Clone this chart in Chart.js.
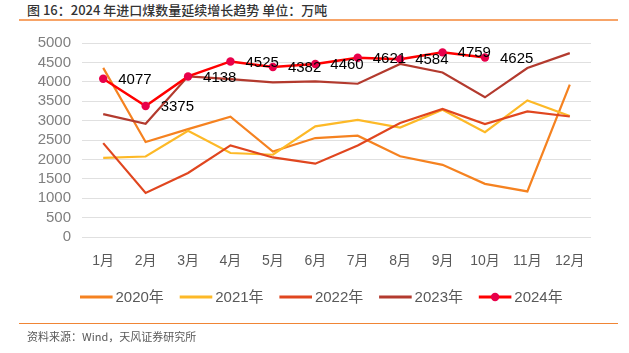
<!DOCTYPE html>
<html>
<head>
<meta charset="utf-8">
<script src="https://cdn.jsdelivr.net/npm/chart.js@4.4.1/dist/chart.umd.min.js"></script>
<style>
  body { margin: 0; background: #fff; }
  #wrap { position: relative; width: 629px; height: 353px; overflow: hidden; font-family: "Liberation Sans", "Noto Sans CJK SC", sans-serif; }
  #title { position: absolute; left: 27px; top: 1px; font-size: 13px; line-height: 17px; color: #333; white-space: nowrap; font-family: "Noto Sans CJK SC", sans-serif; font-weight: 500; }
  .rule { position: absolute; left: 19px; width: 599px; }
  #topRule { top: 19px; height: 1.5px; background: #F7A468; }
  #bottomRule { top: 322.5px; height: 1px; background: #F08535; }
  #source { position: absolute; left: 27px; top: 329px; font-size: 11px; line-height: 14px; color: #595959; white-space: nowrap; font-family: "Noto Sans CJK SC", sans-serif; }
  #chartBox { position: absolute; left: 0; top: 0; width: 629px; height: 353px; }
</style>
</head>
<body>
<div id="wrap">
  <div id="title">图 16：2024 年进口煤数量延续增长趋势 单位：万吨</div>
  <div class="rule" id="topRule"></div>
  <div id="chartBox"><canvas id="coal"></canvas></div>
  <div class="rule" id="bottomRule"></div>
  <div id="source">资料来源：Wind，天风证券研究所</div>
</div>
<script>
// monthly coal imports, 万吨
const months = ['1月', '2月', '3月', '4月', '5月', '6月', '7月', '8月', '9月', '10月', '11月', '12月'];
const seriesNames = ['2020年', '2021年', '2022年', '2023年', '2024年'];
const y2020 = [4360, 2450, 2780, 3100, 2200, 2550, 2610, 2080, 1860, 1370, 1175, 3925];
const y2021 = [2040, 2075, 2740, 2165, 2120, 2850, 3020, 2820, 3280, 2700, 3520, 3120];
const y2022 = [2420, 1135, 1650, 2360, 2050, 1890, 2360, 2940, 3300, 2910, 3235, 3105];
const y2023 = [3165, 2920, 4140, 4070, 3985, 4010, 3950, 4460, 4240, 3600, 4355, 4740];
const y2024 = [4077, 3375, 4138, 4525, 4382, 4460, 4621, 4584, 4759, 4625, null, null];
const yTicks = [0, 500, 1000, 1500, 2000, 2500, 3000, 3500, 4000, 4500, 5000];

const colors = ['#F58220', '#FDB927', '#E0461F', '#B33A2E', '#FF0000'];
const dotColor = '#E8004A';
const fontFamily = '"Liberation Sans", "Noto Sans CJK SC", sans-serif';

const valueLabels = {
  id: 'valueLabels',
  afterDatasetsDraw(chart) {
    const ctx = chart.ctx;
    const meta = chart.getDatasetMeta(4);
    ctx.save();
    ctx.font = '15px ' + fontFamily;
    ctx.fillStyle = '#000';
    ctx.textAlign = 'left';
    ctx.textBaseline = 'middle';
    meta.data.forEach((pt, i) => {
      if (y2024[i] == null) return;
      ctx.fillText(String(y2024[i]), pt.x + 15, pt.y + 1);
    });
    ctx.restore();
  }
};

// legend drawn by hand so the 2024 sample gets its dot
const lineLegend = {
  id: 'lineLegend',
  afterDraw(chart) {
    const ctx = chart.ctx;
    const y = 297;
    ctx.save();
    ctx.font = '15px ' + fontFamily;
    ctx.textBaseline = 'middle';
    ctx.textAlign = 'left';
    chart.data.datasets.forEach((ds, i) => {
      const x = 80 + i * 99.7;
      ctx.strokeStyle = ds.borderColor;
      ctx.lineWidth = 3;
      ctx.beginPath();
      ctx.moveTo(x, y);
      ctx.lineTo(x + 32.6, y);
      ctx.stroke();
      if (i === 4) {
        ctx.fillStyle = dotColor;
        ctx.beginPath();
        ctx.arc(x + 16.3, y, 4.2, 0, Math.PI * 2);
        ctx.fill();
      }
      ctx.fillStyle = '#595959';
      ctx.fillText(ds.label, x + 35.5, y + 1);
    });
    ctx.restore();
  }
};

const allSeries = [y2020, y2021, y2022, y2023, y2024];
const datasets = allSeries.map((vals, i) => ({
  label: seriesNames[i],
  data: vals,
  borderColor: colors[i],
  backgroundColor: colors[i],
  borderWidth: i === 4 ? 2.5 : 2.2,
  tension: 0,
  fill: false,
  pointRadius: i === 4 ? 4.2 : 0,
  pointBackgroundColor: dotColor,
  pointBorderColor: dotColor,
  pointBorderWidth: 0,
  order: 4 - i
}));

new Chart(document.getElementById('coal'), {
  type: 'line',
  data: { labels: months, datasets: datasets },
  options: {
    responsive: true,
    maintainAspectRatio: false,
    animation: false,
    layout: { padding: { top: 43, right: 38, bottom: 86, left: 0 } },
    plugins: {
      legend: { display: false },
      tooltip: { enabled: false }
    },
    scales: {
      x: {
        offset: true,
        grid: { display: false, drawTicks: false },
        border: { display: false },
        ticks: { padding: 16, color: '#595959', autoSkip: false, maxRotation: 0, font: { size: 14, family: fontFamily } },
        afterFit(scale) { scale.height = 30; }
      },
      y: {
        min: 0,
        max: 5000,
        afterBuildTicks(scale) { scale.ticks = yTicks.map(v => ({ value: v })); },
        grid: { color: '#E0E0E0', lineWidth: 1, drawTicks: false },
        border: { display: false },
        ticks: {
          padding: 11,
          color: '#7F7F7F',
          autoSkip: false,
          font: { size: 15, family: fontFamily },
          callback: v => String(v)
        },
        afterFit(scale) { scale.width = 82; }
      }
    }
  },
  plugins: [valueLabels, lineLegend]
});
</script>
</body>
</html>
